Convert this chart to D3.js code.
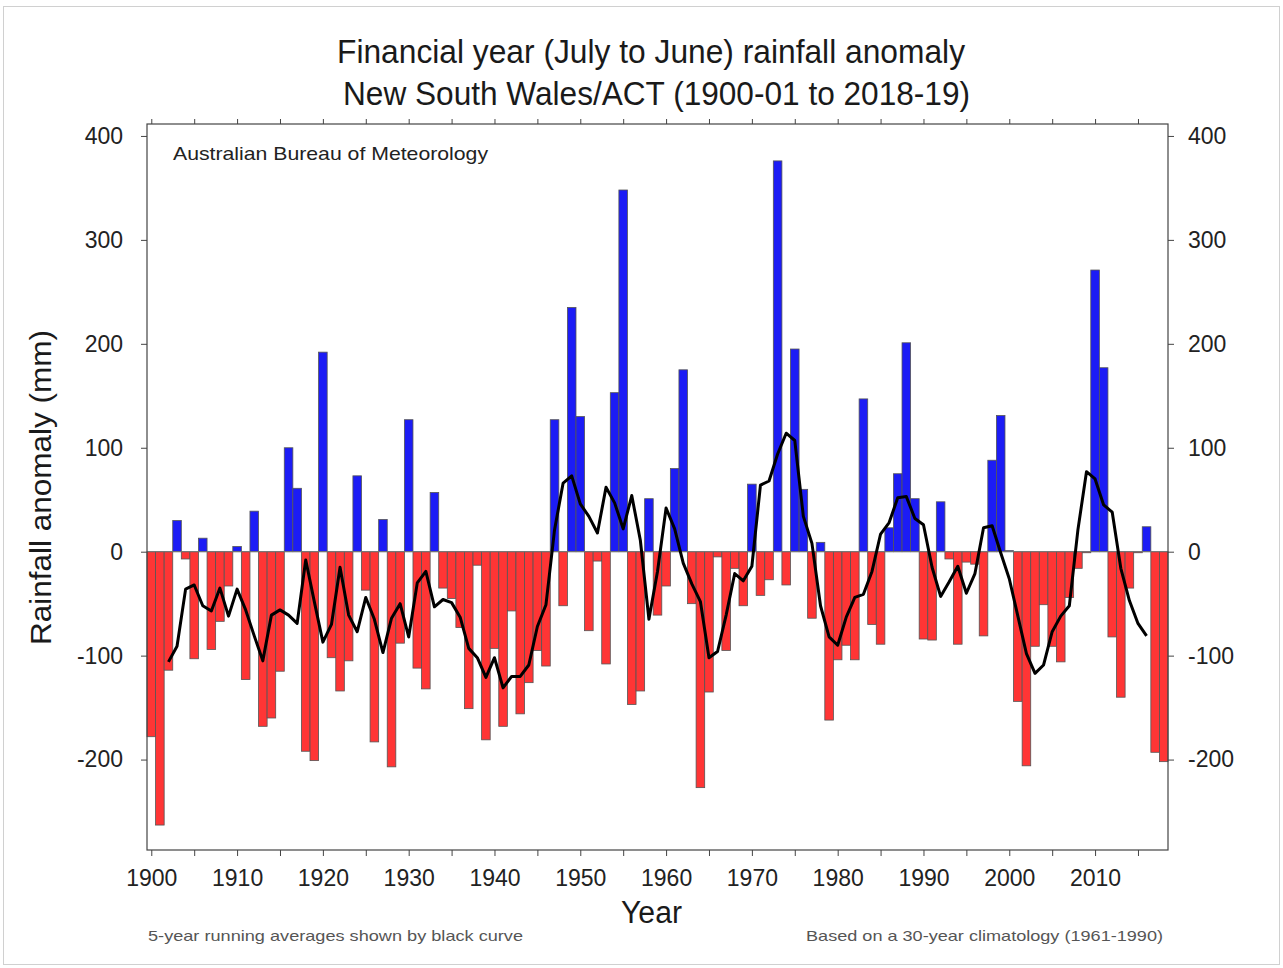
<!DOCTYPE html>
<html lang="en">

<head>
    <meta charset="UTF-8">
    <title>NSW/ACT financial year rainfall anomaly</title>
    <style>
        body { margin: 0; background: #fff; }
        text { font-family: "Liberation Sans", Arial, sans-serif; }
    </style>
</head>

<body>
    <svg id="chart"></svg>

    <script src="https://d3js.org/d3.v7.min.js"></script>
    <script>
        // financial year 1900-01 .. 2018-19, anomaly in mm
        const firstYear = 1900;
        const anomaly = [
            -178, -263, -114, 30, -7, -103, 13, -94, -67, -33,
            5, -123, 39, -168, -160, -115, 100, 61, -192, -201,
            192, -102, -134, -105, 73, -37, -183, 31, -207, -88,
            127, -112, -132, 57, -35, -45, -73, -151, -13, -181,
            -93, -168, -57, -156, -126, -95, -110, 127, -52, 235,
            130, -76, -9, -108, 153, 348, -147, -134, 51, -61,
            -33, 80, 175, -50, -227, -135, -5, -95, -16, -52,
            65, -42, -27, 376, -32, 195, 60, -64, 9, -162,
            -104, -90, -104, 147, -70, -89, 23, 75, 201, 51,
            -84, -85, 48, -7, -89, -10, -12, -81, 88, 131,
            1, -144, -206, -91, -51, -91, -106, -44, -16, -1,
            271, 177, -82, -140, -35, -1, 24, -193, -202
        ];

        // 5-year running average (black curve), 1902 .. 2016
        const runStart = 1902;
        const runAvg = [
            -106, -91, -36, -32, -52, -57, -35, -62, -36, -56,
            -81, -105, -61, -56, -61, -69, -8, -48, -87, -70,
            -15, -61, -77, -44, -65, -97, -64, -50, -82, -30,
            -19, -53, -46, -49, -63, -93, -102, -121, -102, -131,
            -120, -120, -109, -72, -51, 21, 66, 73, 46, 34,
            18, 62, 47, 22, 54, 11, -65, -19, 42, 22,
            -11, -31, -48, -102, -96, -61, -21, -28, -14, 64,
            68, 94, 114, 107, 34, 8, -52, -82, -90, -63,
            -44, -41, -19, 17, 28, 52, 53, 32, 26, -15,
            -43, -29, -14, -40, -21, 23, 25, -1, -26, -62,
            -98, -117, -109, -77, -62, -52, 21, 77, 70, 45,
            38, -16, -47, -69, -81
        ];

        const yTicks = [-200, -100, 0, 100, 200, 300, 400];
        const xTickLabels = [1900, 1910, 1920, 1930, 1940, 1950, 1960, 1970, 1980, 1990, 2000, 2010];
        const xMinorTicks = [1900, 1905, 1910, 1915, 1920, 1925, 1930, 1935, 1940, 1945, 1950, 1955,
            1960, 1965, 1970, 1975, 1980, 1985, 1990, 1995, 2000, 2005, 2010, 2015];

        const bars = anomaly.map((v, i) => ({ year: firstYear + i, value: v }));
        const avg = runAvg.map((v, i) => ({ year: runStart + i, value: v }));

        const width = 1283, height = 968;
        const plotLeft = 147, plotRight = 1168, plotTop = 124, plotBottom = 850;

        const svg = d3.select("#chart")
            .attr("width", width)
            .attr("height", height)
            .attr("viewBox", [0, 0, width, height]);

        // outer picture border
        svg.append("rect")
            .attr("x", 3.5).attr("y", 6.5)
            .attr("width", 1276).attr("height", 958)
            .attr("fill", "white")
            .attr("stroke", "#d0d0d0");

        const x = d3.scaleLinear().domain([1899.5, 2018.5]).range([plotLeft, plotRight]);
        const y = d3.scaleLinear().domain([-287, 411.5]).range([plotBottom, plotTop]);

        // bars
        svg.append("g")
            .attr("stroke", "#555")
            .attr("stroke-width", 0.8)
            .selectAll("rect")
            .data(bars)
            .join("rect")
            .attr("x", d => x(d.year - 0.5))
            .attr("width", d => x(d.year + 0.5) - x(d.year - 0.5))
            .attr("y", d => y(Math.max(0, d.value)))
            .attr("height", d => Math.abs(y(d.value) - y(0)))
            .attr("fill", d => d.value >= 0 ? "#1c1cf5" : "#ff3535");

        // zero line
        svg.append("line")
            .attr("x1", plotLeft).attr("x2", plotRight)
            .attr("y1", y(0)).attr("y2", y(0))
            .attr("stroke", "#777")
            .attr("stroke-width", 1);

        // running average curve
        svg.append("path")
            .datum(avg)
            .attr("fill", "none")
            .attr("stroke", "#000")
            .attr("stroke-width", 3)
            .attr("stroke-linejoin", "round")
            .attr("d", d3.line().x(d => x(d.year)).y(d => y(d.value)));

        // frame
        svg.append("rect")
            .attr("x", plotLeft).attr("y", plotTop)
            .attr("width", plotRight - plotLeft).attr("height", plotBottom - plotTop)
            .attr("fill", "none")
            .attr("stroke", "#444")
            .attr("stroke-width", 1.2);

        const styleAxis = g => {
            g.select(".domain").remove();
            g.selectAll(".tick line").attr("stroke", "#444");
            g.selectAll(".tick text")
                .attr("fill", "#222")
                .attr("font-size", 23)
                .attr("font-family", "'Liberation Sans', Arial, sans-serif");
        };

        const plain = d => String(d); // hyphen minus, as in the original

        svg.append("g")
            .attr("transform", `translate(${plotLeft},0)`)
            .call(d3.axisLeft(y).tickValues(yTicks).tickFormat(plain).tickSize(6).tickPadding(18))
            .call(styleAxis);

        svg.append("g")
            .attr("transform", `translate(${plotRight},0)`)
            .call(d3.axisRight(y).tickValues(yTicks).tickFormat(plain).tickSize(6).tickPadding(14))
            .call(styleAxis);

        svg.append("g")
            .attr("transform", `translate(0,${plotBottom})`)
            .call(d3.axisBottom(x).tickValues(xMinorTicks).tickSize(6).tickPadding(14)
                .tickFormat(d => xTickLabels.includes(d) ? d : ""))
            .call(styleAxis);

        svg.append("g")
            .attr("transform", `translate(0,${plotTop})`)
            .call(d3.axisTop(x).tickValues(xMinorTicks).tickSize(5).tickFormat(""))
            .call(styleAxis);

        // titles and notes
        const label = (txt, px, py, size, len, color) => svg.append("text")
            .attr("x", px).attr("y", py)
            .attr("font-size", size)
            .attr("fill", color)
            .attr("textLength", len)
            .attr("lengthAdjust", "spacingAndGlyphs")
            .text(txt);

        label("Financial year (July to June) rainfall anomaly", 337, 63, 34, 628, "#1a1a1a");
        label("New South Wales/ACT (1900-01 to 2018-19)", 343, 105, 34, 627, "#1a1a1a");
        label("Australian Bureau of Meteorology", 173, 160, 19, 315, "#222");
        label("Year", 621, 923, 31, 61, "#1a1a1a");
        label("5-year running averages shown by black curve", 148, 941, 15, 375, "#555");
        label("Based on a 30-year climatology (1961-1990)", 806, 941, 15, 357, "#555");

        svg.append("text")
            .attr("transform", "translate(51,645) rotate(-90)")
            .attr("font-size", 30)
            .attr("fill", "#1a1a1a")
            .attr("textLength", 315)
            .attr("lengthAdjust", "spacingAndGlyphs")
            .text("Rainfall anomaly (mm)");
    </script>
</body>

</html>
